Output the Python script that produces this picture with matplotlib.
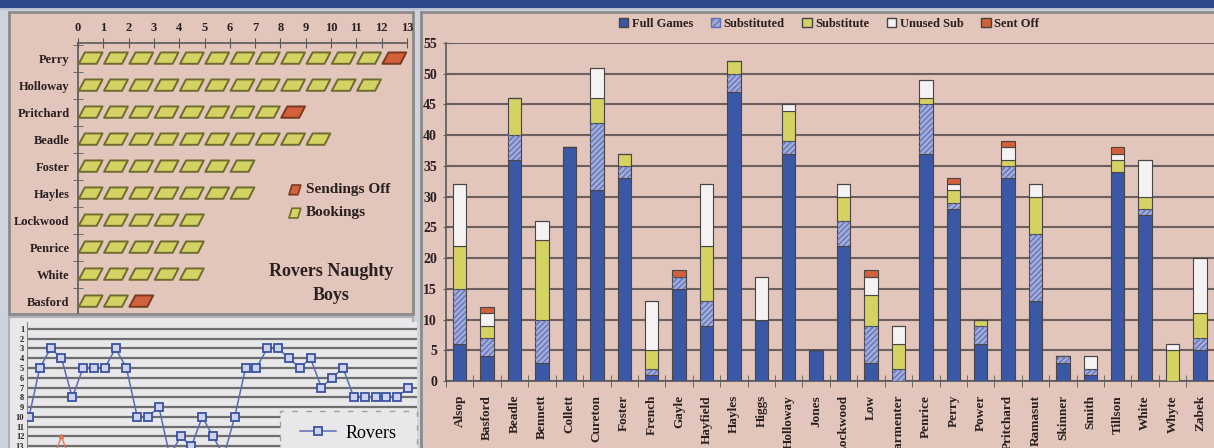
import matplotlib
matplotlib.use('Agg')
import matplotlib.pyplot as plt
from matplotlib.patches import Rectangle, Polygon
import numpy as np

# ---------------- data ----------------
players = ['Alsop', 'Basford', 'Beadle', 'Bennett', 'Collett', 'Cureton', 'Foster',
           'French', 'Gayle', 'Hayfield', 'Hayles', 'Higgs', 'Holloway', 'Jones',
           'Lockwood', 'Low', 'Parmenter', 'Penrice', 'Perry', 'Power', 'Pritchard',
           'Ramasut', 'Skinner', 'Smith', 'Tillson', 'White', 'Whyte', 'Zabek']
full_games  = [6, 4, 36, 3, 38, 31, 33, 1, 15, 9, 47, 10, 37, 5, 22, 3, 0, 37, 28, 6, 33, 13, 3, 1, 34, 27, 0, 5]
substituted = [9, 3, 4, 7, 0, 11, 2, 1, 2, 4, 3, 0, 2, 0, 4, 6, 2, 8, 1, 3, 2, 11, 1, 1, 0, 1, 0, 2]
substitute  = [7, 2, 6, 13, 0, 4, 2, 3, 0, 9, 2, 0, 5, 0, 4, 5, 4, 1, 2, 1, 1, 6, 0, 0, 2, 2, 5, 4]
unused_sub  = [10, 2, 0, 3, 0, 5, 0, 8, 0, 10, 0, 7, 1, 0, 2, 3, 3, 3, 1, 0, 2, 2, 0, 2, 1, 6, 1, 9]
sent_off    = [0, 1, 0, 0, 0, 0, 0, 0, 1, 0, 0, 0, 0, 0, 0, 1, 0, 0, 1, 0, 1, 0, 0, 0, 1, 0, 0, 0]
series_names = ['Full Games', 'Substituted', 'Substitute', 'Unused Sub', 'Sent Off']

naughty_players = ['Perry', 'Holloway', 'Pritchard', 'Beadle', 'Foster', 'Hayles',
                   'Lockwood', 'Penrice', 'White', 'Basford']
bookings     = [12, 12, 8, 10, 7, 7, 5, 5, 5, 2]
sendings_off = [1, 0, 1, 0, 0, 0, 0, 0, 0, 1]

games = list(range(1, 37))
rovers_pos = [10, 5, 3, 4, 8, 5, 5, 5, 3, 5, 10, 10, 9, 14, 12, 13, 10, 12, 14, 10,
              5, 5, 3, 3, 4, 5, 4, 7, 6, 5, 8, 8, 8, 8, 8, 7]
other_games = [3, 4, 5]
other_pos = [15, 12, 15]
position_ticks = list(range(1, 14))

# ---------------- style ----------------
plt.rcParams['font.family'] = ['Liberation Serif', 'DejaVu Serif']
plt.rcParams['hatch.linewidth'] = 0.9
PINK = '#e2c5bb'
BLUE = '#3a58a5'
LBLUE = '#a3acd8'
HATCH = '#5e70b6'
YEL = '#d3d262'
WHITE = '#f4f2f2'
RED = '#d2603a'
GRID = '#6b5f5f'
TXT = '#2a2020'

W, H = 1214, 448
fig = plt.figure(figsize=(W / 100, H / 100), dpi=100)
fig.patch.set_facecolor('#cfd3dd')


def prect(x0, y0, x1, y1, **kw):
    r = Rectangle((x0 / W, 1 - y1 / H), (x1 - x0) / W, (y1 - y0) / H,
                  transform=fig.transFigure, **kw)
    fig.patches.append(r)
    return r


def pax(x0, y0, x1, y1, z=1):
    a = fig.add_axes([x0 / W, 1 - y1 / H, (x1 - x0) / W, (y1 - y0) / H])
    a.set_zorder(z)
    return a


prect(0, 0, W, 8, facecolor='#2c4a8c', edgecolor='none', zorder=-5)
prect(0, 8, W, 10, facecolor='#b8c0d4', edgecolor='none', zorder=-5)
prect(9, 12, 413, 314, facecolor=PINK, edgecolor='#8a8a8a', lw=2, zorder=-5)
prect(9, 317, 413, 452, facecolor='#e8e8ea', edgecolor='#b0b0b8', lw=1.5, zorder=-5)
prect(421, 12, W + 5, 452, facecolor=PINK, edgecolor='#8a8a8a', lw=2, zorder=-5)

# ---------------- bookings pictograph ----------------
axb = pax(78, 43, 407, 313)
axb.set_facecolor('none')
axb.set_xlim(0, 13)
axb.set_ylim(9.44, -0.56)
for s in ['right', 'bottom']:
    axb.spines[s].set_visible(False)
for s in ['left', 'top']:
    axb.spines[s].set_color('#5a5a5a')
    axb.spines[s].set_linewidth(1.2)
axb.xaxis.tick_top()
axb.set_xticks(range(0, 14))
axb.set_xticklabels([str(i) for i in range(0, 14)], fontsize=9, fontweight='bold', color=TXT)
axb.tick_params(axis='x', direction='inout', length=7, color='#5a5a5a', pad=3)
rows = np.arange(len(naughty_players))
axb.set_yticks(rows)
axb.set_yticklabels(naughty_players, fontsize=9, fontweight='bold', color=TXT)
axb.tick_params(axis='y', length=0, pad=6)
axb.set_yticks(list(rows[:-1] + 0.5) + [-0.5], minor=True)
axb.tick_params(axis='y', which='minor', direction='inout', length=7, color='#5a5a5a')


def card(ax, x, y, face, edge, w=1.0, h=0.42, lw=1.4):
    pts = [(x + 0.03 * w, y + h / 2), (x + 0.74 * w, y + h / 2),
           (x + 0.97 * w, y - h / 2), (x + 0.27 * w, y - h / 2)]
    ax.add_patch(Polygon(pts, closed=True, facecolor=face, edgecolor=edge,
                         lw=lw, joinstyle='round', zorder=3, clip_on=False))


for r, (nb, ns) in enumerate(zip(bookings, sendings_off)):
    for i in range(nb):
        card(axb, i, r, YEL, '#6e6c2e')
    for j in range(ns):
        card(axb, nb + j, r, RED, '#7a3a22')

# legend of pictograph
card(axb, 8.32, 4.88, RED, '#7a3a22', w=0.5, h=0.36, lw=1.2)
card(axb, 8.32, 5.74, YEL, '#6e6c2e', w=0.5, h=0.36, lw=1.2)
axb.text(9.0, 4.85, 'Sendings Off', fontsize=11, fontweight='bold', color=TXT, va='center')
axb.text(9.0, 5.71, 'Bookings', fontsize=11, fontweight='bold', color=TXT, va='center')
fig.text(331 / W, 1 - 272 / H, 'Rovers Naughty', fontsize=13, fontweight='bold',
         color=TXT, ha='center', va='center')
fig.text(331 / W, 1 - 296 / H, 'Boys', fontsize=13, fontweight='bold',
         color=TXT, ha='center', va='center')

# ---------------- league position line chart ----------------
axl = pax(27, 322, 417, 322 + 19.7 * 9.78)
axl.set_facecolor('#e8e8ea')
axl.set_xlim(0.82, 36.83)
axl.set_ylim(20.0, 0.3)
axl.set_yticks(position_ticks)
axl.set_yticklabels([str(i) for i in position_ticks], fontsize=6, fontweight='bold', color=TXT)
axl.tick_params(axis='y', length=0, pad=2)
axl.set_xticks([])
axl.grid(axis='y', color='#6e6e6e', lw=1.6)
axl.set_axisbelow(True)
for s in ['right', 'top', 'bottom']:
    axl.spines[s].set_visible(False)
axl.spines['left'].set_color('#8a8a8a')
axl.plot(games, rovers_pos, color='#5b6cb2', lw=1.1, marker='s', markersize=5.5,
         markerfacecolor='#cdd3ec', markeredgecolor='#3a52a0', markeredgewidth=1.3,
         zorder=3, label='Rovers')
axl.plot(other_games, other_pos, color='#e27a58', lw=1.0, marker='^', markersize=3,
         zorder=3)
box = Rectangle((280 / W, 1 - 460 / H), 137 / W, 49 / H, transform=fig.transFigure,
                facecolor='#e8e8ea', edgecolor='#a0a0a0', lw=1,
                linestyle=(0, (4, 6)), zorder=4, clip_on=False)
axl.add_patch(box)
leg = axl.legend(loc='center left', bbox_to_anchor=(284 / W, 1 - 433 / H),
                 bbox_transform=fig.transFigure, frameon=False, fontsize=13,
                 handlelength=2.0, handletextpad=0.5)
leg.set_zorder(5)

# ---------------- stacked bar chart ----------------
axr = pax(446, 43, W, 381)
axr.set_facecolor('none')
x = np.arange(len(players))
bw = 0.49
fg = np.array(full_games)
sd = np.array(substituted)
st = np.array(substitute)
us = np.array(unused_sub)
so = np.array(sent_off)
b1 = fg
b2 = b1 + sd
b3 = b2 + st
b4 = b3 + us
ekw = dict(edgecolor='#4a4444', linewidth=0.8, zorder=3)
axr.bar(x, fg, bw, color=BLUE, **ekw)
axr.bar(x, sd, bw, bottom=b1, color=LBLUE, **ekw)
axr.bar(x, sd, bw, bottom=b1, color='none', edgecolor=HATCH, hatch='//////',
        linewidth=0, zorder=3.5)
axr.bar(x, st, bw, bottom=b2, color=YEL, **ekw)
axr.bar(x, us, bw, bottom=b3, color=WHITE, **ekw)
axr.bar(x, so, bw, bottom=b4, color=RED, **ekw)

axr.set_xlim(-0.47, 27.51)
axr.set_ylim(0, 55)
axr.set_yticks(range(0, 56, 5))
axr.set_yticklabels([str(v) for v in range(0, 56, 5)], fontsize=10, fontweight='bold', color=TXT)
axr.tick_params(axis='y', direction='inout', length=5, color='#5a5a5a', pad=4)
axr.set_xticks(x)
axr.set_xticklabels(players, rotation=90, fontsize=9.5, fontweight='bold', color=TXT)
axr.tick_params(axis='x', which='major', length=0, pad=10)
axr.set_xticks(np.arange(-0.5, 28, 1.0), minor=True)
axr.tick_params(axis='x', which='minor', direction='inout', length=8, color='#5a5a5a')
axr.grid(axis='y', color=GRID, lw=1.5)
axr.set_axisbelow(True)
for s in ['right', 'top']:
    axr.spines[s].set_visible(False)
for s in ['left', 'bottom']:
    axr.spines[s].set_color('#5a5a5a')
    axr.spines[s].set_linewidth(1.2)

handles = [Rectangle((0, 0), 1, 1, facecolor=BLUE, edgecolor='#444'),
           Rectangle((0, 0), 1, 1, facecolor=LBLUE, edgecolor=HATCH, hatch='/////'),
           Rectangle((0, 0), 1, 1, facecolor=YEL, edgecolor='#444'),
           Rectangle((0, 0), 1, 1, facecolor=WHITE, edgecolor='#444'),
           Rectangle((0, 0), 1, 1, facecolor=RED, edgecolor='#444')]
fig.legend(handles, series_names, loc='center', bbox_to_anchor=(829 / W, 1 - 24 / H),
           ncol=5, frameon=False, prop={'size': 9, 'weight': 'bold'},
           handlelength=0.75, handleheight=0.75, handletextpad=0.3,
           columnspacing=1.4, labelcolor=TXT)

fig.savefig('out.png', dpi=100, facecolor=fig.get_facecolor())
